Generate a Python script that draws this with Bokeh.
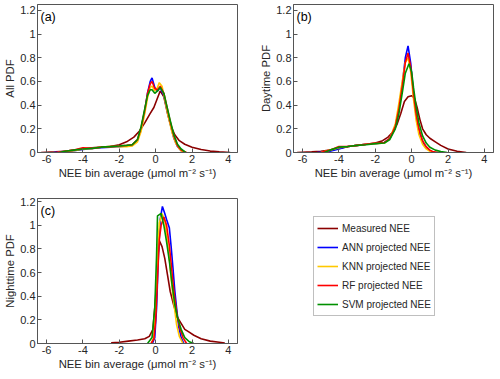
from bokeh.plotting import figure
from bokeh.models import Legend, LegendItem, Label, FixedTicker, Range1d
from bokeh.layouts import column, row
from bokeh.embed import file_html
from bokeh.resources import INLINE

# ---------------- data ----------------
series_names = ["Measured NEE", "ANN projected NEE", "KNN projected NEE",
                "RF projected NEE", "SVM projected NEE"]
series_colors = ["#8b0000", "#0000ff", "#ffc800", "#ff0000", "#009000"]

x_ticks = [-6, -4, -2, 0, 2, 4]
x_tick_labels = ["-6", "-4", "-2", "0", "2", "4"]
y_ticks = [0, 0.2, 0.4, 0.6, 0.8, 1.0, 1.2]
y_tick_labels = ["0", "0.2", "0.4", "0.6", "0.8", "1", "1.2"]

# Panel (a): all data
a_meas_x = [-6.3, -5.5, -5.0, -4.5, -4.0, -3.5, -3.0, -2.5, -2.0, -1.6, -1.2, -0.9, -0.6, -0.3, -0.1, 0.1, 0.25, 0.45, 0.65, 0.85, 1.05, 1.3, 1.6, 2.0, 2.5, 3.0, 3.5, 4.1]
a_meas_y = [0, 0.005, 0.01, 0.02, 0.03, 0.04, 0.045, 0.05, 0.065, 0.09, 0.13, 0.18, 0.25, 0.33, 0.38, 0.46, 0.52, 0.47, 0.33, 0.22, 0.15, 0.1, 0.07, 0.045, 0.025, 0.012, 0.005, 0]
a_ann_x = [-5.6, -5.0, -4.5, -4.0, -3.5, -3.0, -2.5, -2.0, -1.6, -1.3, -1.0, -0.8, -0.6, -0.45, -0.3, -0.2, -0.05, 0.1, 0.25, 0.45, 0.6, 0.8, 1.0, 1.2, 1.4, 1.6]
a_ann_y = [0, 0.01, 0.015, 0.025, 0.035, 0.04, 0.045, 0.05, 0.055, 0.06, 0.1, 0.2, 0.35, 0.5, 0.6, 0.63, 0.55, 0.52, 0.55, 0.48, 0.38, 0.24, 0.12, 0.05, 0.015, 0]
a_knn_x = [-5.4, -5.0, -4.5, -4.0, -3.5, -3.0, -2.5, -2.0, -1.6, -1.3, -1.0, -0.8, -0.6, -0.45, -0.3, -0.2, -0.05, 0.1, 0.2, 0.35, 0.5, 0.7, 0.9, 1.1, 1.3, 1.5]
a_knn_y = [0, 0.01, 0.015, 0.03, 0.035, 0.045, 0.05, 0.05, 0.05, 0.055, 0.09, 0.18, 0.33, 0.46, 0.55, 0.56, 0.52, 0.55, 0.59, 0.56, 0.45, 0.3, 0.17, 0.08, 0.03, 0]
a_rf_x = [-5.5, -5.0, -4.5, -4.0, -3.5, -3.0, -2.5, -2.0, -1.6, -1.3, -1.0, -0.8, -0.6, -0.45, -0.3, -0.2, -0.05, 0.1, 0.25, 0.45, 0.6, 0.8, 1.0, 1.2, 1.4, 1.7]
a_rf_y = [0, 0.01, 0.02, 0.04, 0.035, 0.045, 0.05, 0.055, 0.06, 0.065, 0.11, 0.21, 0.36, 0.5, 0.58, 0.6, 0.54, 0.53, 0.56, 0.5, 0.4, 0.26, 0.14, 0.06, 0.02, 0]
a_svm_x = [-5.3, -5.0, -4.5, -4.0, -3.5, -3.0, -2.5, -2.0, -1.6, -1.3, -1.0, -0.8, -0.6, -0.45, -0.3, -0.2, -0.05, 0.1, 0.25, 0.45, 0.6, 0.8, 1.0, 1.2, 1.4, 1.65]
a_svm_y = [0, 0.01, 0.02, 0.03, 0.035, 0.045, 0.05, 0.055, 0.06, 0.065, 0.11, 0.22, 0.37, 0.48, 0.53, 0.53, 0.5, 0.52, 0.55, 0.5, 0.4, 0.27, 0.15, 0.07, 0.03, 0]

# Panel (b): daytime
b_meas_x = [-6.3, -5.5, -5.0, -4.5, -4.0, -3.5, -3.0, -2.5, -2.0, -1.6, -1.3, -1.0, -0.8, -0.6, -0.4, -0.2, 0.0, 0.15, 0.3, 0.45, 0.6, 0.8, 1.0, 1.3, 1.6, 2.0, 2.5, 3.0]
b_meas_y = [0, 0.005, 0.01, 0.02, 0.035, 0.05, 0.06, 0.07, 0.08, 0.1, 0.13, 0.18, 0.24, 0.33, 0.43, 0.47, 0.48, 0.46, 0.38, 0.28, 0.2, 0.15, 0.12, 0.09, 0.06, 0.03, 0.01, 0]
b_ann_x = [-5.2, -4.5, -4.0, -3.5, -3.0, -2.5, -2.0, -1.5, -1.2, -0.9, -0.7, -0.5, -0.35, -0.2, -0.05, 0.1, 0.25, 0.4, 0.6, 0.8, 1.0, 1.2, 1.3]
b_ann_y = [0, 0.01, 0.03, 0.05, 0.06, 0.07, 0.075, 0.085, 0.12, 0.22, 0.38, 0.6, 0.8, 0.9, 0.75, 0.5, 0.3, 0.18, 0.09, 0.04, 0.015, 0.003, 0]
b_knn_x = [-5.0, -4.5, -4.0, -3.5, -3.0, -2.5, -2.0, -1.5, -1.2, -0.9, -0.7, -0.5, -0.35, -0.2, -0.05, 0.1, 0.25, 0.4, 0.6, 0.8, 1.0, 1.2, 1.3]
b_knn_y = [0, 0.02, 0.04, 0.05, 0.06, 0.07, 0.075, 0.08, 0.12, 0.24, 0.42, 0.62, 0.76, 0.8, 0.68, 0.45, 0.27, 0.15, 0.07, 0.03, 0.01, 0.002, 0]
b_rf_x = [-5.0, -4.5, -4.0, -3.5, -3.0, -2.5, -2.0, -1.5, -1.2, -0.9, -0.7, -0.5, -0.35, -0.2, -0.05, 0.1, 0.25, 0.4, 0.6, 0.8, 1.0, 1.2, 1.5]
b_rf_y = [0, 0.02, 0.05, 0.05, 0.06, 0.07, 0.08, 0.085, 0.12, 0.22, 0.37, 0.58, 0.76, 0.84, 0.72, 0.5, 0.32, 0.2, 0.1, 0.05, 0.02, 0.005, 0]
b_svm_x = [-4.8, -4.5, -4.0, -3.5, -3.0, -2.5, -2.0, -1.5, -1.2, -0.9, -0.7, -0.5, -0.35, -0.15, 0.0, 0.1, 0.25, 0.4, 0.6, 0.8, 1.0, 1.3, 1.6, 1.95]
b_svm_y = [0, 0.02, 0.045, 0.05, 0.06, 0.065, 0.075, 0.08, 0.11, 0.2, 0.33, 0.52, 0.67, 0.75, 0.68, 0.55, 0.38, 0.25, 0.14, 0.08, 0.045, 0.02, 0.008, 0]

# Panel (c): nighttime
c_meas_x = [-2.45, -2.0, -1.5, -1.0, -0.6, -0.35, -0.15, 0.0, 0.1, 0.2, 0.35, 0.5, 0.65, 0.8, 1.0, 1.2, 1.4, 1.6, 1.8, 2.1, 2.5, 3.0, 3.5, 3.8]
c_meas_y = [0.005, 0.01, 0.02, 0.03, 0.04, 0.06, 0.12, 0.4, 0.7, 0.87, 0.82, 0.72, 0.58, 0.44, 0.32, 0.22, 0.17, 0.12, 0.1, 0.07, 0.04, 0.02, 0.01, 0.003]
c_ann_x = [-0.18, -0.05, 0.05, 0.15, 0.25, 0.37, 0.5, 0.6, 0.75, 0.85, 0.95, 1.05, 1.15, 1.27, 1.4, 1.55]
c_ann_y = [0, 0.05, 0.3, 0.75, 1.05, 1.16, 1.1, 1.05, 0.98, 0.82, 0.64, 0.45, 0.3, 0.14, 0.05, 0]
c_knn_x = [-0.25, -0.1, 0.0, 0.1, 0.2, 0.35, 0.5, 0.6, 0.75, 0.85, 0.95, 1.05, 1.15, 1.3, 1.5]
c_knn_y = [0, 0.05, 0.3, 0.75, 1.02, 1.1, 1.04, 0.92, 0.72, 0.55, 0.4, 0.28, 0.16, 0.06, 0]
c_rf_x = [-0.25, -0.1, 0.0, 0.1, 0.2, 0.3, 0.45, 0.6, 0.75, 0.85, 0.95, 1.05, 1.2, 1.35, 1.5, 1.7]
c_rf_y = [0, 0.04, 0.2, 0.55, 0.88, 1.0, 1.07, 1.0, 0.83, 0.68, 0.52, 0.38, 0.22, 0.12, 0.05, 0]
c_svm_x = [-0.45, -0.2, -0.05, 0.05, 0.1, 0.2, 0.3, 0.45, 0.6, 0.75, 0.9, 1.05, 1.2, 1.4, 1.6, 1.85, 2.1]
c_svm_y = [0, 0.05, 0.3, 0.75, 1.08, 1.09, 1.1, 1.0, 0.86, 0.7, 0.5, 0.33, 0.22, 0.12, 0.05, 0.015, 0]

panel_a = [(a_meas_x, a_meas_y), (a_ann_x, a_ann_y), (a_knn_x, a_knn_y), (a_rf_x, a_rf_y), (a_svm_x, a_svm_y)]
panel_b = [(b_meas_x, b_meas_y), (b_ann_x, b_ann_y), (b_knn_x, b_knn_y), (b_rf_x, b_rf_y), (b_svm_x, b_svm_y)]
panel_c = [(c_meas_x, c_meas_y), (c_ann_x, c_ann_y), (c_knn_x, c_knn_y), (c_rf_x, c_rf_y), (c_svm_x, c_svm_y)]

x_label = "NEE bin average (\u03bcmol m\u207b\u00b2 s\u207b\u00b9)"

FONT = "Liberation Sans"
TXT = "#262626"
EDGE = "#555555"
LW = 1.6


def make_panel(data, ylabel, tag, width, height, ymax, bl, br, bt, bb):
    p = figure(width=width, height=height, output_backend="svg", toolbar_location=None,
               x_range=Range1d(-6.5, 4.5), y_range=Range1d(0, ymax),
               min_border_left=bl, min_border_right=br, min_border_top=bt, min_border_bottom=bb)
    p.xgrid.visible = False
    p.ygrid.visible = False
    p.outline_line_color = EDGE
    p.outline_line_width = 1
    for (xs, ys), c in zip(data, series_colors):
        p.line(xs, ys, line_color=c, line_width=LW)
    for ax in (p.xaxis[0], p.yaxis[0]):
        ax.axis_line_color = EDGE
        ax.major_tick_line_color = EDGE
        ax.major_tick_in = 4
        ax.major_tick_out = 0
        ax.minor_tick_line_color = None
        ax.major_label_text_font = FONT
        ax.major_label_text_font_size = "11px"
        ax.major_label_text_color = TXT
        ax.axis_label_text_font = FONT
        ax.axis_label_text_font_size = "11.3px"
        ax.axis_label_text_font_style = "normal"
        ax.axis_label_text_color = TXT
        ax.major_label_standoff = 2
        ax.axis_label_standoff = 1
    p.xaxis.ticker = FixedTicker(ticks=x_ticks)
    p.xaxis.major_label_overrides = dict(zip(x_ticks, x_tick_labels))
    p.yaxis.ticker = FixedTicker(ticks=y_ticks)
    p.yaxis.major_label_overrides = dict(zip(y_ticks, y_tick_labels))
    p.xaxis.axis_label = x_label
    p.yaxis.axis_label = ylabel
    p.add_layout(Label(x=3, y=height - bt - bb - 5, x_units="screen", y_units="screen",
                       text=tag, text_font=FONT, text_font_size="12.5px", text_color="black",
                       text_baseline="top", text_align="left"))
    return p


pa = make_panel(panel_a, "All PDF", "(a)", 256, 192, 1.25, 37, 19, 4, 40)
pb = make_panel(panel_b, "Daytime PDF", "(b)", 242, 192, 1.25, 37, 5, 4, 40)
pc = make_panel(panel_c, "Nighttime PDF", "(c)", 256, 183, 1.227, 37, 19, 6, 32)

# legend panel: same series drawn outside its view, only the legend is seen
pl = figure(width=242, height=183, output_backend="svg", toolbar_location=None,
            x_range=Range1d(100, 101), y_range=Range1d(100, 101),
            x_axis_location=None, y_axis_location=None,
            min_border_left=0, min_border_right=0, min_border_top=0, min_border_bottom=0)
pl.xgrid.visible = False
pl.ygrid.visible = False
pl.outline_line_color = None
leg_renderers = [pl.line(xs, ys, line_color=c, line_width=LW) for (xs, ys), c in zip(panel_c, series_colors)]

legend = Legend(items=[LegendItem(label=n, renderers=[r]) for n, r in zip(series_names, leg_renderers)],
                location=(20, 59), margin=0, padding=3, spacing=3,
                glyph_width=21, glyph_height=16, label_height=16, label_standoff=4,
                label_text_font=FONT, label_text_font_size="10px", label_text_color=TXT,
                border_line_color="#7f7f7f", border_line_width=1,
                background_fill_color="white", background_fill_alpha=1.0)
pl.add_layout(legend, "center")

layout = row(column(pa, pc), column(pb, pl))
open("out.html", "w").write(file_html(layout, INLINE))
